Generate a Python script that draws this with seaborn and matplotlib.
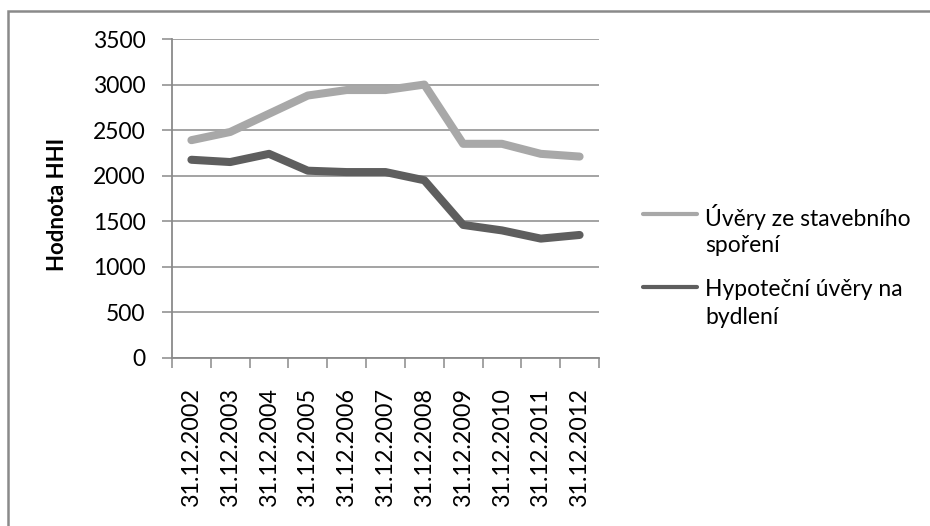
import matplotlib
matplotlib.use("Agg")
import matplotlib.pyplot as plt
from matplotlib.lines import Line2D
from matplotlib.patches import Rectangle
from matplotlib.ticker import FixedLocator
import pandas as pd
import seaborn as sns

# HHI values of the two loan markets at year end
dates = ["31.12.2002", "31.12.2003", "31.12.2004", "31.12.2005", "31.12.2006",
         "31.12.2007", "31.12.2008", "31.12.2009", "31.12.2010", "31.12.2011",
         "31.12.2012"]
stavebni = [2390, 2480, 2680, 2880, 2940, 2940, 3000, 2350, 2350, 2240, 2210]
hypoteky = [2175, 2150, 2240, 2055, 2040, 2040, 1950, 1460, 1400, 1310, 1350]
series_names = ["Úvěry ze stavebního spoření", "Hypoteční úvěry na bydlení"]
legend_lines = [["Úvěry ze stavebního", "spoření"], ["Hypoteční úvěry na", "bydlení"]]
colors = ["#A8A8A8", "#5E5E5E"]
y_ticks = [0, 500, 1000, 1500, 2000, 2500, 3000, 3500]
y_label = "Hodnota HHI"

sns.set_theme(style="white")
plt.rcParams["font.family"] = ["Lato", "DejaVu Sans"]

W, H = 930, 526
fig = plt.figure(figsize=(W / 100, H / 100), dpi=100)
fig.patch.set_facecolor("white")

# outer chart frame (only top and left edges fall inside the canvas)
fig.add_artist(Rectangle((8 / W, -0.1), 1.2, 1 - 11 / H + 0.1,
                         transform=fig.transFigure, fill=False,
                         edgecolor="#8A8A8A", linewidth=1.8))

ax = fig.add_axes([172 / W, 1 - 358 / H, 427 / W, 319 / H])

df = pd.DataFrame({
    "pos": list(range(len(dates))) * 2,
    "value": stavebni + hypoteky,
    "series": [series_names[0]] * len(dates) + [series_names[1]] * len(dates),
})

sns.lineplot(data=df, x="pos", y="value", hue="series", hue_order=series_names,
             palette=dict(zip(series_names, colors)), linewidth=5.8,
             sort=False, legend=False, ax=ax)
for ln in ax.lines:
    ln.set_solid_capstyle("round")
    ln.set_solid_joinstyle("round")

ax.set_xlim(-0.5, len(dates) - 0.5)
ax.set_ylim(0, 3500)
ax.set_yticks(y_ticks)
ax.set_xticks(range(len(dates)))
ax.set_xticklabels(dates, rotation=90, fontsize=16.8)
ax.xaxis.set_minor_locator(FixedLocator([i - 0.5 for i in range(len(dates) + 1)]))
ax.tick_params(axis="x", which="major", length=0, pad=21, colors="black")
ax.tick_params(axis="x", which="minor", length=7, width=1.1, color="#8A8A8A",
               direction="out", bottom=True)
ax.tick_params(axis="y", length=7, width=1.1, color="#8A8A8A", direction="out",
               left=True, pad=12, labelsize=16.5, labelcolor="black")
ax.set_xlabel("")
ax.set_ylabel(y_label, fontsize=16, fontweight="bold", color="black")
ax.yaxis.set_label_coords(-0.269, 0.48)
ax.yaxis.label.set_verticalalignment("center")

ax.grid(axis="y", color="#8A8A8A", linewidth=1.1)
ax.grid(axis="x", visible=False)
ax.set_axisbelow(True)
for side in ("top", "right"):
    ax.spines[side].set_visible(False)
for side in ("left", "bottom"):
    ax.spines[side].set_color("#8A8A8A")
    ax.spines[side].set_linewidth(1.3)

# legend to the right of the plot area
entry_top = [217, 290]
for lines, c, y0 in zip(legend_lines, colors, entry_top):
    fig.add_artist(Line2D([643 / W, 697 / W], [1 - (y0 - 3) / H] * 2,
                          transform=fig.transFigure, color=c, linewidth=3))
    for k, txt in enumerate(lines):
        fig.text(705 / W, 1 - (y0 + 28 * k) / H, txt, ha="left", va="center",
                 fontsize=16.5, color="black")

fig.savefig("out.png", dpi=100)
